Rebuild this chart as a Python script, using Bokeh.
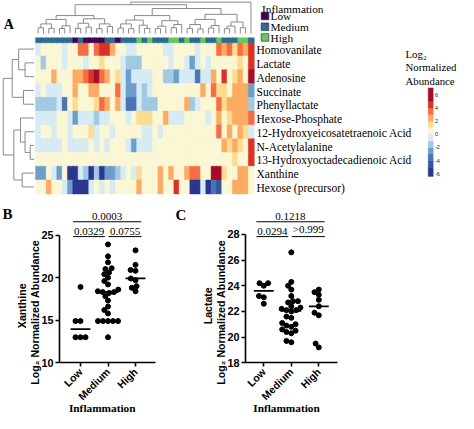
import math
import numpy as np
from bokeh.plotting import figure
from bokeh.models import Range1d, LinearColorMapper, ColumnDataSource, FixedTicker
from bokeh.transform import transform, factor_cmap
from bokeh.core.properties import value
from bokeh.layouts import column, row
from bokeh.embed import file_html
from bokeh.resources import INLINE

# ---------------- data ----------------
metabolites = ["Homovanilate", "Lactate", "Adenosine", "Succinate", "Phenyllactate",
               "Hexose-Phosphate", "12-Hydroxyeicosatetraenoic Acid", "N-Acetylalanine",
               "13-Hydroxyoctadecadienoic Acid", "Xanthine", "Hexose (precursor)"]
groups = ["Low", "Medium", "High"]
group_colors = ["#440154", "#2D6C92", "#66C85C"]
group_code = {"L": "Low", "M": "Medium", "H": "High"}
sample_codes = list("MMMMMMMLMLLLLMMLMMMHMHMMMHHMHMMHMMHMMMHHM")

hm_homovanilate = [-1, 0, 0, 0, 0, -1, 0, 0.5, 3, 3, 0.5, 3, 4.5, 4, 2, 1,
                   0, -1, -1, 0, 0, 0, 0, 0, -1, -1, 0, 0, 0, 0, -1, 0, 0, 0,
                   3, 2.5, 3.5, 1.5, 3.5, 2, 4]
hm_lactate = [0, -1.5, 0, 0, 0, -1, 0, 0, 1, -0.5, 1, 1, 1.5, 0, 1,
              0, -1, -1.5, -1.5, -2, 0, 0.5, 0, 0, 0, -1, 0, 0, -1, -2.5, -1, 0, -1, 0.5,
              1, 0.5, 1, 0, 1.5, 0.5, 4.5]
hm_adenosine = [0.5, 0.5, 0.5, 2, 0, 0, 0.5, 2, 2, 3.5, 4, 5.5, 3, 2, 0,
                1.5, -1, -3, -1, -1, -1, -1, 0, 0, -2, -2, -3, -1, -1, -1, -4, -1, -1, 2,
                1, 4.5, 1, 1.5, 2, 1, 6]
hm_succinate = [-1, 0, -1, -1, -1, 0, 0, 2, 1, 1, 2, 2, 1, 1, 0,
                3, -1, -3, -3, -1, -2, -1, 0, 0, 0.5, 0.5, 0, 1, 0, 1, 0, 2.5, 0, 3.5,
                1.5, 1.5, 1, 2, 2, 2, -3]
hm_phenyllactate = [-1.5, -1.5, -1.5, -1.5, -1, -4, 0, 1.5, 0.5, 0.5, 1, 1.5, 3, 2, 0,
                    2, -1, -4, -3.5, -1, -1.5, -1.5, -1.5, 0.5, 1, 1, 0.5, 0, 2, -1.5, -1, 0.5, 0.5, 1,
                    3, 1.5, 2, 2, 2, 2, -1.5]
hm_hexose_p = [-1, -1, -1, -1, 1, 1, -1, -2.5, -0.5, -1, -1, -2, -1, -1, 0,
               0.5, 0, -1, 1, 1.5, 1.5, 1.5, 1, 1, 2.5, -1, -1, -0.5, 0.5, 0, 0, 0, -1, 1,
               2.5, 0, 1.5, 2, 2, 2.5, 3]
hm_12hete = [-0.5, 0, 0, -0.5, 0, 1, -1, 0, 0, 0, 1.5, -1, 0, 1, -1,
             0, 0, 0, 0, 0, -1, -1, 0, -1, 0, 0, 0, 0.5, 0, 0, 0, 0, 0, 0.5,
             3, 1, 2, 1, 2, 1.5, -1]
hm_nacetylalanine = [-1, -1, -1, -1, -1, 0, -1, -1, -1, -1, 1, -1, 1, -0.5, 0,
                     0, 0, -1, -3, -1, -1, -1, 1, 1, 1, 0.5, 1, 0.5, 0.5, 0, 0, 1, 0, 0.5,
                     1, 2, 1.5, 2, 1.5, 1, 4.5]
hm_13hode = [0, 0, 0, 0, 0, 1, 0, 0, 0, 0, 0, 0, 0, 0, 0,
             0, 0, 0, 0, 0, 0, 0, 0, 0, 0, 0, 0, 0, 0, 0, 0, 0, 0, 0,
             0, 1, 0.5, 1.5, 1, 1, 4.5]
hm_xanthine = [-3, -3, 0, -1, -3, 0, -5.5, -5.5, -1, -2, -5.5, -2, -5.5, -3, -3,
               -2, -1, 0, -1, 1.5, 0, 1, 0, 2, 1, 2, 0, 1, 2, 3, 3.5, 1, 0.5, 5,
               5.5, 1.5, 1, 1, 2, 2, 0.5]
hm_hexose = [1, 0.5, 2, 0, 0, -0.5, -3, -5.5, -5.5, -5.5, -1, 0, -1, 0, -1,
             0, 0, 1, 0, 2, 0, 1, 0, 2, 1, 0, 4.5, 0, 1, -5.5, -5.5, -1, -5.5, -4,
             -5, 0, 1, 2, 2, 2, 0.5]

heat_palette = ["#2b3691", "#36539f", "#4a75b4", "#6c9dcb", "#a1c9e2", "#d6ebf3",
                "#fbf7d4", "#fddb91", "#fcab63", "#f46d45", "#d93329", "#a70d27"]
cb_ticks = [6, 4, 2, 0, -2, -4, -6]

# dendrogram structures (left, right, height)
ct_a = (((0, 1, 1.8), (2, 3, 1.6), 3.0), ((4, 5, 1.6), 6, 2.4), 4.4)
ct_b = (((7, 8, 1.6), (9, 10, 2.0), 3.2), ((11, 12, 1.5), (13, 14, 2.2), 3.0), 4.6)
ct_c1 = (((15, 16, 1.7), (17, 18, 1.5), 3.0), (19, (20, 21, 1.6), 2.6), 4.2)
ct_c2 = (((22, 23, 1.5), 24, 2.3), ((25, 26, 1.8), 27, 2.8), 4.0)
ct_d1 = (((28, 29, 1.6), (30, 31, 1.4), 2.8), ((32, 33, 1.7), 34, 2.5), 4.4)
ct_d2 = (((35, 36, 1.5), 37, 2.3), (38, 39, 1.8), 3.6)
ct_left = (ct_a, ct_b, 5.6)
ct_right = ((ct_c1, ct_c2, 5.6), (ct_d1, ct_d2, 6.0), 7.8)
col_tree = ((ct_left, ct_right, 9.0), 40, 9.8)
row_tree = (((0, (1, 2, 2.8), 4.8), (3, 4, 3.3), 6.8),
            ((5, (6, (7, 8, 1.2), 2.8), 4.2), (9, 10, 3.7), 6.3), 9.6)

# panel B / C values
xan_low = [18.9, 14.9, 14.9, 13.0, 13.0, 13.0]
xan_med = [23.9, 22.5, 21.8, 21.1, 21.0, 20.6, 20.4, 20.0, 19.6, 19.2, 18.6, 18.4, 18.3,
           18.3, 18.2, 17.8, 17.3, 16.6, 15.8, 14.9, 14.9, 14.9, 14.9, 14.9, 13.0, 16.2]
xan_high = [23.2, 21.5, 20.9, 20.8, 19.9, 19.7, 19.0, 18.8, 18.4]
xan_p = ["0.0329", "0.0755", "0.0003"]
xan_ticks = [10, 15, 20, 25]

lac_low = [24.2, 24.2, 24.0, 23.2, 23.1, 22.6]
lac_med = [26.6, 24.3, 24.0, 23.7, 23.2, 22.8, 22.8, 22.7, 22.4, 22.3, 22.1, 22.1, 22.2,
           22.0, 21.6, 21.5, 21.1, 21.0, 20.9, 20.8, 20.6, 20.5, 20.4, 20.3, 19.7, 19.6]
lac_high = [23.7, 23.5, 23.3, 22.9, 22.4, 21.9, 21.7, 19.5, 19.2]
lac_p = ["0.0294", ">0.999", "0.1218"]
lac_ticks = [18, 20, 22, 24, 26, 28]

# ---------------- geometry ----------------
W_ALL = 458
HT, HB = 205, 208          # top figure height, bottom figures height
WB, WC = 170, 288          # widths of panels B and C
SYB = HB / (429.0 - HT)    # vertical compression of the bottom row

HM_X0, HM_CW = 35.0, 5.32
HM_Y0, HM_RH = 41.7, 13.78


def tu(rx):
    return (rx - HM_X0) / HM_CW


def tv(ry):
    return (ry - HM_Y0) / HM_RH


SERIF = "Liberation Serif"
SANS = "Liberation Sans"

# ---------------- top figure (A) ----------------
top = figure(width=W_ALL, height=HT, x_range=Range1d(tu(0), tu(W_ALL)),
             y_range=Range1d(tv(HT), tv(0)), x_axis_type=None, y_axis_type=None,
             output_backend="svg", toolbar_location=None, tools="", min_border=0)
top.outline_line_color = None
top.background_fill_color = "white"
top.border_fill_color = "white"

mapper = LinearColorMapper(palette=heat_palette, low=-6, high=6,
                           low_color=heat_palette[0], high_color=heat_palette[-1])

rows_data = [hm_homovanilate, hm_lactate, hm_adenosine, hm_succinate, hm_phenyllactate,
             hm_hexose_p, hm_12hete, hm_nacetylalanine, hm_13hode, hm_xanthine, hm_hexose]
hx, hy, hv = [], [], []
for r, rv in enumerate(rows_data):
    for c, v in enumerate(rv):
        hx.append(c + 0.5)
        hy.append(r + 0.5)
        hv.append(v)
hsrc = ColumnDataSource(dict(x=hx, y=hy, val=hv))
top.rect(x="x", y="y", width=1, height=1, source=hsrc, fill_color=transform("val", mapper),
         line_color=transform("val", mapper), line_width=0.4, dilate=True)

# group annotation bar
ncol = len(sample_codes)
bar_y0, bar_y1 = tv(37.3), tv(41.4)
gsrc = ColumnDataSource(dict(x=[c + 0.5 for c in range(ncol)],
                             group=[group_code[s] for s in sample_codes]))
top.rect(x="x", y=(bar_y0 + bar_y1) / 2, width=1, height=bar_y1 - bar_y0, source=gsrc,
         fill_color=factor_cmap("group", group_colors, groups),
         line_color=factor_cmap("group", group_colors, groups), line_width=0.4, dilate=True)


def walk(node, segs):
    if isinstance(node, int):
        return node + 0.5, 0.0
    left, right, h = node
    pl, hl = walk(left, segs)
    pr, hr = walk(right, segs)
    segs += [(pl, hl, pl, h), (pr, hr, pr, h), (pl, h, pr, h)]
    return (pl + pr) / 2.0, h


cs = []
walk(col_tree, cs)
top.segment(x0=[s[0] for s in cs], y0=[tv(33 - 3.2 * s[1]) for s in cs],
            x1=[s[2] for s in cs], y1=[tv(33 - 3.2 * s[3]) for s in cs],
            line_color="#8a8a8a", line_width=1)
rs = []
walk(row_tree, rs)
top.segment(x0=[tu(33.5 - 3.2 * s[1]) for s in rs], y0=[s[0] for s in rs],
            x1=[tu(33.5 - 3.2 * s[3]) for s in rs], y1=[s[2] for s in rs],
            line_color="#8a8a8a", line_width=1)

# row labels
top.text(x=[tu(256)] * len(metabolites), y=[r + 0.58 for r in range(len(metabolites))],
         text=metabolites, text_font=value(SERIF), text_font_size="11.5px",
         text_baseline="middle", text_align="left", text_color="black")

# legend
top.text(x=[tu(261.5)], y=[tv(8.8)], text=["Inflammation"], text_font=value(SERIF),
         text_font_size="11.3px", text_baseline="alphabetic", text_color="black")
leg_y = [tv(15.5), tv(26.3), tv(37.0)]
top.scatter(x=[tu(264.5)] * 3, y=leg_y, marker="square", size=7.6, fill_color=group_colors,
            line_color="#222222", line_width=0.6)
top.text(x=[tu(270)] * 3, y=leg_y, text=groups, text_font=value(SERIF), text_font_size="11.3px",
         text_baseline="middle", text_color="black")

# colour bar
top.text(x=[tu(405)] * 3, y=[tv(53), tv(66.5), tv(80)], text=["Log₂", "Normalized", "Abundance"],
         text_font=value(SERIF), text_font_size="10.8px", text_baseline="middle", text_color="black")
CB_Y0, CB_K = 133.8, 6.58
cb_edges = [-6.4, -5, -4, -3, -2, -1, 0, 1, 2, 3, 4, 5, 7.05]
cbsrc = ColumnDataSource(dict(
    left=[tu(427.7)] * (len(cb_edges) - 1), right=[tu(432.7)] * (len(cb_edges) - 1),
    top=[tv(CB_Y0 - CB_K * b) for b in cb_edges[1:]],
    bottom=[tv(CB_Y0 - CB_K * a) for a in cb_edges[:-1]],
    mid=[(a + b) / 2 for a, b in zip(cb_edges[:-1], cb_edges[1:])]))
top.quad(left="left", right="right", top="top", bottom="bottom", source=cbsrc,
         fill_color=transform("mid", mapper), line_color=transform("mid", mapper), line_width=0.4)
top.text(x=[tu(434.5)] * len(cb_ticks), y=[tv(CB_Y0 - CB_K * t) for t in cb_ticks],
         text=[str(t) for t in cb_ticks], text_font=value(SANS), text_font_size="5.5px",
         text_baseline="middle", text_color="#222222")

top.text(x=[tu(3.3)], y=[tv(24)], text=["A"], text_font=value(SERIF), text_font_size="14px",
         text_font_style="bold", text_baseline="alphabetic", text_color="black")


# ---------------- bottom panels ----------------
def swarm(vals, xpx, ypx, d):
    order = sorted(range(len(vals)), key=lambda i: vals[i])
    placed = []
    offs = [0.0] * len(vals)
    for i in order:
        y = vals[i] * ypx
        forb = []
        for (xp, yp) in placed:
            dyy = abs(y - yp)
            if dyy < d:
                w = math.sqrt(d * d - dyy * dyy)
                forb.append((xp - w, xp + w))
        cands = [0.0] + [e for f in forb for e in f]
        cands.sort(key=lambda c: (round(abs(c), 6), c))
        chosen = 0.0
        for c in cands:
            if all(not (a + 1e-6 < c < b - 1e-6) for a, b in forb):
                chosen = c
                break
        placed.append((chosen, y))
        offs[i] = chosen / xpx
    return offs


def BY(ry):
    return (ry - HT) * SYB


def make_panel(fig_left, W, frame_l_ref, frame_r_ref, cat0_ref, ybase, ppu_ref,
               ticks, group_vals, pvals, letter, letter_ref, title1, title_refs, xlab_ref):
    step = 27.5
    xpx = step
    ypx = ppu_ref * SYB
    xs = (fig_left - cat0_ref) / step
    xe = xs + W / xpx
    ys = ybase - (HB - BY(374.4)) / ypx
    ye = ys + HB / ypx

    def dx(rx):
        return xs + (rx - fig_left) / xpx

    def dy(ry):
        return ys + (HB - BY(ry)) / ypx

    p = figure(width=W, height=HB, x_range=Range1d(xs, xe), y_range=Range1d(ys, ye),
               output_backend="svg", toolbar_location=None, tools="", min_border=0)
    p.outline_line_color = None
    p.xgrid.visible = False
    p.ygrid.visible = False
    p.background_fill_color = "white"
    p.border_fill_color = "white"

    p.axis.axis_line_width = 1.6
    p.axis.axis_line_color = "black"
    p.axis.major_tick_line_width = 1.6
    p.axis.major_tick_line_color = "black"
    p.axis.major_tick_out = 4
    p.axis.major_tick_in = 0
    p.axis.minor_tick_line_color = None
    p.axis.major_label_text_font = SANS
    p.axis.major_label_text_font_style = "bold"
    p.axis.major_label_text_font_size = "10.8px"
    p.axis.major_label_text_color = "black"
    p.xaxis.ticker = FixedTicker(ticks=[0, 1, 2])
    p.xaxis.major_label_overrides = {0: groups[0], 1: groups[1], 2: groups[2]}
    p.xaxis.major_label_orientation = math.pi / 4
    p.xaxis.major_label_standoff = 3
    p.xaxis.major_label_text_font_size = "10.5px"
    p.xaxis.fixed_location = ybase
    p.xaxis.bounds = (dx(frame_l_ref), dx(frame_r_ref))
    p.yaxis.ticker = FixedTicker(ticks=ticks)
    p.yaxis.bounds = (ticks[0], ticks[-1])
    p.yaxis.major_label_standoff = 2
    p.yaxis.fixed_location = dx(frame_l_ref)

    for k, vals in enumerate(group_vals):
        offs = swarm(vals, xpx, ypx, 5.0)
        p.scatter(x=[k + o for o in offs], y=vals, size=5, color="black")
        med = float(np.median(vals))
        p.segment(x0=[k - 0.36], y0=[med], x1=[k + 0.36], y1=[med],
                  line_color="black", line_width=1.8)

    low_y, up_y = dy(238.5), dy(222.5)
    br = [(-0.27, 0.89, low_y), (1.02, 2.22, low_y), (-0.27, 2.21, up_y)]
    p.segment(x0=[b[0] for b in br], y0=[b[2] for b in br], x1=[b[1] for b in br],
              y1=[b[2] for b in br], line_color="black", line_width=1)
    p.text(x=[(b[0] + b[1]) / 2 for b in br], y=[dy(237.0), dy(237.0), dy(221.0)], text=pvals,
           text_font=value(SERIF), text_font_size="11px", text_align="center",
           text_baseline="bottom", text_color="black")

    p.text(x=[dx(letter_ref[0])], y=[dy(letter_ref[1])], text=[letter], text_font=value(SERIF),
           text_font_style="bold", text_font_size="15px", text_align="left",
           text_baseline="top", text_color="black")
    p.text(x=[dx(title_refs[0]), dx(title_refs[1])], y=[dy(313), dy(320)],
           text=[title1, "Log₂ Normalized Abundance"], angle=math.pi / 2,
           text_font=value(SANS), text_font_style="bold", text_font_size="10.6px",
           text_align="center", text_baseline="middle", text_color="black")
    p.text(x=[dx(xlab_ref)], y=[dy(422.8)], text=["Inflammation"], text_font=value(SERIF),
           text_font_style="bold", text_font_size="11.3px", text_align="center",
           text_baseline="middle", text_color="black")
    return p


pB = make_panel(0.0, WB, 59, 155, 80, 10, 9.173, xan_ticks, [xan_low, xan_med, xan_high], xan_p,
                "B", (2.0, 205.5), "Xanthine", (21, 34), 101.7)
pC = make_panel(float(WB), WC, 245, 336.7, 263.3, 18, 13.83, lac_ticks, [lac_low, lac_med, lac_high],
                lac_p, "C", (175, 206.5), "Lactate", (207.5, 220.5), 286)

layout = column(top, row(pB, pC))
open("out.html", "w").write(file_html(layout, INLINE, title="Figure"))
